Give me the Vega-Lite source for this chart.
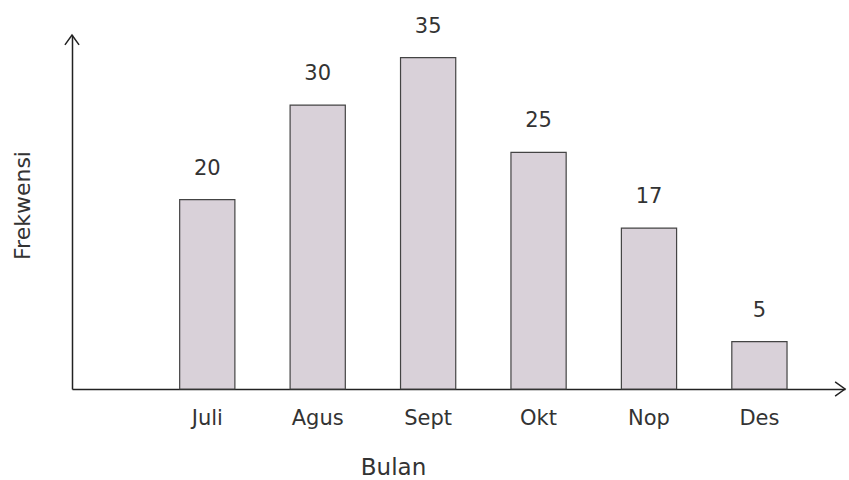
{
  "$schema": "https://vega.github.io/schema/vega-lite/v6.json",
  "width": 773,
  "height": 354,
  "autosize": "none",
  "padding": {"left": 72, "top": 35, "right": 4, "bottom": 91},
  "background": "white",
  "config": {"view": {"stroke": null}, "font": "DejaVu Sans"},
  "data": {"values": [
    {"Bulan": "Juli", "Frekwensi": 20},
    {"Bulan": "Agus", "Frekwensi": 30},
    {"Bulan": "Sept", "Frekwensi": 35},
    {"Bulan": "Okt", "Frekwensi": 25},
    {"Bulan": "Nop", "Frekwensi": 17},
    {"Bulan": "Des", "Frekwensi": 5}
  ]},
  "layer": [
    {
      "layer": [
        {
          "mark": {"type": "bar", "fill": "#d9d1d9", "stroke": "#444", "strokeWidth": 1.2},
          "encoding": {
            "x": {"field": "Bulan", "type": "nominal", "sort": null,
              "scale": {"paddingInner": 0.5, "paddingOuter": 0.75, "align": 0.65},
              "axis": {"title": "Bulan", "labelAngle": 0, "ticks": false, "grid": false,
                "domainColor": "#222", "domainWidth": 1.5, "labelFontSize": 21, "labelColor": "#333",
                "labelPadding": 18, "titleFontSize": 23, "titleFontWeight": "normal", "titleColor": "#333",
                "titleX": 321, "titleY": 67}},
            "y": {"field": "Frekwensi", "type": "quantitative",
              "scale": {"domain": [0, 37.4], "nice": false},
              "axis": {"title": "Frekwensi", "ticks": false, "labels": false, "grid": false,
                "domainColor": "#222", "domainWidth": 1.5, "titleFontSize": 22, "titleFontWeight": "normal",
                "titleColor": "#333", "titleX": -50, "titleY": 170, "titleAlign": "center", "titleBaseline": "middle"}}
          }
        },
        {
          "mark": {"type": "text", "dy": -31, "fontSize": 21, "color": "#333", "baseline": "middle"},
          "encoding": {
            "x": {"field": "Bulan", "type": "nominal", "sort": null},
            "y": {"field": "Frekwensi", "type": "quantitative"},
            "text": {"field": "Frekwensi", "type": "quantitative"}
          }
        }
      ]
    },
    {
      "data": {"values": [{}]},
      "mark": {"type": "point", "shape": "M-1,1.4L0,0L1,1.4", "size": 200, "filled": false, "stroke": "#222", "strokeWidth": 1.5, "opacity": 1},
      "encoding": {
        "x": {"datum": 0, "type": "quantitative", "scale": {"domain": [0, 1], "nice": false}, "axis": null},
        "y": {"datum": 37.4, "type": "quantitative"}
      }
    },
    {
      "data": {"values": [{}]},
      "mark": {"type": "point", "shape": "M-1.4,-1L0,0L-1.4,1", "size": 200, "filled": false, "stroke": "#222", "strokeWidth": 1.5, "opacity": 1},
      "encoding": {
        "x": {"datum": 1, "type": "quantitative", "scale": {"domain": [0, 1], "nice": false}, "axis": null},
        "y": {"datum": 0, "type": "quantitative"}
      }
    }
  ],
  "resolve": {"scale": {"x": "independent"}}
}
